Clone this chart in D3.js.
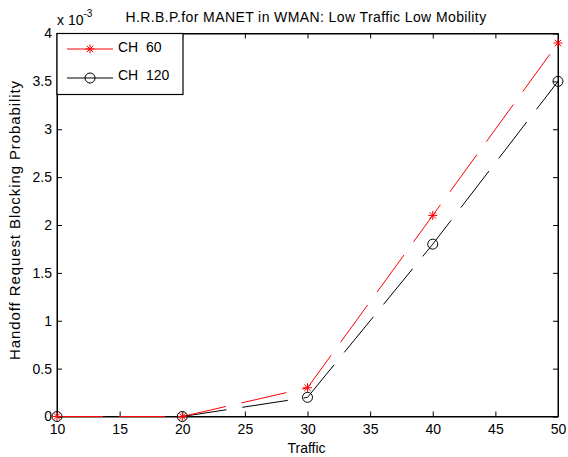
<!DOCTYPE html>
<html><head><meta charset="utf-8">
<script src="https://cdn.jsdelivr.net/npm/d3@7"></script>
<style>body{margin:0;background:#fff}svg{display:block}text{font-family:"Liberation Sans",Arial,sans-serif;fill:#000}</style>
</head><body>
<svg id="c" width="568" height="457"></svg>
<script>
const traffic = [10, 20, 30, 40, 50];
const ch60 = [0, 0, 0.3, 2.1, 3.9];
const ch120 = [0, 0, 0.2, 1.8, 3.5];
const xTicks = [10, 15, 20, 25, 30, 35, 40, 45, 50];
const yTicks = [0, 0.5, 1, 1.5, 2, 2.5, 3, 3.5, 4];
const seriesNames = ["CH  60", "CH  120"];

const svg = d3.select("#c");
const L = 57, R = 558, T = 33.5, B = 416.5;
const x = d3.scaleLinear().domain([10, 50]).range([L, R]);
const y = d3.scaleLinear().domain([0, 4]).range([B, T]);

svg.append("rect").attr("x", L).attr("y", T).attr("width", R - L).attr("height", B - T)
  .attr("fill", "none").attr("stroke", "#000").attr("stroke-width", 1);

const fs = 14;
const xb = svg.append("g").attr("transform", `translate(0,${B})`)
  .call(d3.axisBottom(x).tickValues(xTicks).tickSizeInner(-5).tickSizeOuter(0).tickPadding(7.5).tickFormat(d3.format("d")));
const xt = svg.append("g").attr("transform", `translate(0,${T})`)
  .call(d3.axisTop(x).tickValues(xTicks).tickSizeInner(-5).tickSizeOuter(0).tickFormat(""));
const yl = svg.append("g").attr("transform", `translate(${L},0)`)
  .call(d3.axisLeft(y).tickValues(yTicks).tickSizeInner(-5).tickSizeOuter(0).tickPadding(5).tickFormat(d => String(d)));
const yr = svg.append("g").attr("transform", `translate(${R},0)`)
  .call(d3.axisRight(y).tickValues(yTicks).tickSizeInner(-5).tickSizeOuter(0).tickFormat(""));
[xb, xt, yl, yr].forEach(g => {
  g.select(".domain").attr("stroke", "#000");
  g.selectAll(".tick line").attr("stroke", "#000");
  g.selectAll("text").attr("font-size", fs).attr("font-family", "Liberation Sans, Arial, sans-serif").attr("fill", "#000");
});
xb.selectAll("text").attr("dy", "0.71em");

const line = d3.line().x((d, i) => x(traffic[i])).y(d => y(d));
svg.append("path").datum(ch120).attr("d", line).attr("fill", "none").attr("stroke", "#000")
  .attr("stroke-width", 1).attr("stroke-dasharray", "46,16");
svg.append("path").datum(ch60).attr("d", line).attr("fill", "none").attr("stroke", "#ff0000")
  .attr("stroke-width", 1).attr("stroke-dasharray", "46,16");

function star(g, cx, cy, r, color) {
  const a = r * 0.72;
  const segs = [[0, -r, 0, r], [-r, 0, r, 0], [-a, -a, a, a], [-a, a, a, -a]];
  segs.forEach(s => g.append("line").attr("x1", cx + s[0]).attr("y1", cy + s[1]).attr("x2", cx + s[2]).attr("y2", cy + s[3])
    .attr("stroke", color).attr("stroke-width", 1));
}
const mk = svg.append("g");
ch120.forEach((d, i) => mk.append("circle").attr("cx", x(traffic[i])).attr("cy", y(d)).attr("r", 5)
  .attr("fill", "none").attr("stroke", "#000").attr("stroke-width", 1));
ch60.forEach((d, i) => star(mk, x(traffic[i]), y(d), 4.5, "#ff0000"));

// legend
const lg = svg.append("g");
lg.append("rect").attr("x", L).attr("y", T).attr("width", 126).attr("height", 61)
  .attr("fill", "#fff").attr("stroke", "#000").attr("stroke-width", 1.2);
lg.append("line").attr("x1", 67).attr("x2", 113).attr("y1", 49).attr("y2", 49).attr("stroke", "#ff0000");
star(lg, 90, 49, 4.5, "#ff0000");
lg.append("line").attr("x1", 67).attr("x2", 113).attr("y1", 78).attr("y2", 78).attr("stroke", "#000");
lg.append("circle").attr("cx", 90).attr("cy", 78).attr("r", 5).attr("fill", "none").attr("stroke", "#000");
lg.append("text").attr("x", 118).attr("y", 52).attr("font-size", fs).style("white-space", "pre").text(seriesNames[0]);
lg.append("text").attr("x", 118).attr("y", 79.5).attr("font-size", fs).style("white-space", "pre").text(seriesNames[1]);

// labels
svg.append("text").attr("x", 306).attr("y", 22).attr("text-anchor", "middle").attr("font-size", 14)
  .attr("letter-spacing", 0.4).text("H.R.B.P.for MANET in WMAN: Low Traffic Low Mobility");
svg.append("text").attr("x", 306.5).attr("y", 452.5).attr("text-anchor", "middle").attr("font-size", 14).text("Traffic");
svg.append("text").attr("transform", "translate(20,220) rotate(-90)").attr("text-anchor", "middle").attr("font-size", 15)
  .attr("letter-spacing", 0.9).text("Handoff Request Blocking Probability");
const ex = svg.append("text").attr("x", 57).attr("y", 25).attr("font-size", 14);
ex.append("tspan").text("x 10");
ex.append("tspan").attr("dy", -8).attr("font-size", 10).text("-3");
</script>
</body></html>
